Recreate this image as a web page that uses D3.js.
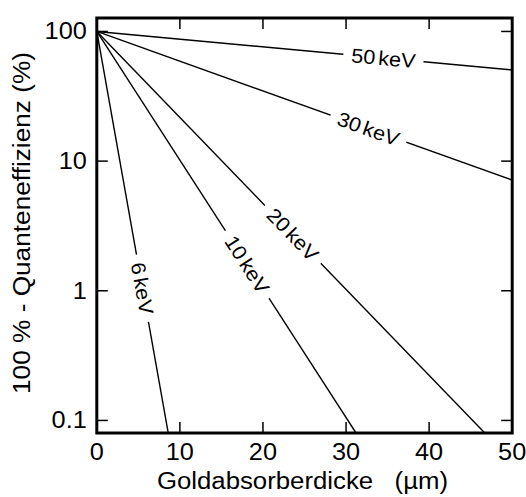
<!DOCTYPE html>
<html><head><meta charset="utf-8">
<script src="https://cdn.jsdelivr.net/npm/d3@7"></script>
<style>
html,body{margin:0;padding:0;background:#fff;}
text{font-family:"Liberation Sans",Arial,Helvetica,sans-serif;fill:#000;}
</style></head>
<body>
<svg id="c" width="526" height="497"></svg>
<script>
// Data
const energies = ["6 keV", "10 keV", "20 keV", "30 keV", "50 keV"];
const startPoint = [0, 100];
const endThickness = [8.6, 31.2, 46.7, 50, 50];
const endPercent = [0.08, 0.08, 0.08, 7.14, 50.5];
const labelThickness = [5.5, 18.1, 23.6, 32.7, 34.5];
const xTicks = [0, 10, 20, 30, 40, 50];
const yTicks = [0.1, 1, 10, 100];
const yTickLabels = ["0.1", "1", "10", "100"];

const svg = d3.select("#c");
const L = 96.8, R = 512.2, T = 18, B = 433;
const x = d3.scaleLinear().domain([0, 50]).range([L, R]);
const y = d3.scaleLog().domain([0.08, 127]).range([B, T]);

function stretch(sel, f) {
  const w = sel.node().getComputedTextLength();
  sel.attr("textLength", w * f).attr("lengthAdjust", "spacingAndGlyphs");
  return sel;
}

svg.append("clipPath").attr("id","pc").append("rect")
  .attr("x", L).attr("y", T).attr("width", R-L).attr("height", B-T);

const line = d3.line().x(d => x(d[0])).y(d => y(d[1]));
const g = svg.append("g").attr("clip-path","url(#pc)");

energies.forEach((e, i) => {
  const pts = [startPoint, [endThickness[i], endPercent[i]]];
  g.append("path").attr("d", line(pts)).attr("fill","none")
    .attr("stroke","#000").attr("stroke-width",1.4);
});

// labels with gaps
energies.forEach((e, i) => {
  const x0 = x(startPoint[0]), y0 = y(startPoint[1]);
  const x1 = x(endThickness[i]), y1 = y(endPercent[i]);
  const ang = Math.atan2(y1 - y0, x1 - x0) * 180 / Math.PI;
  const lx = x(labelThickness[i]);
  const t = (lx - x0) / (x1 - x0);
  const ly = y0 + t * (y1 - y0);
  const lg = svg.append("g").attr("transform", `translate(${lx},${ly}) rotate(${ang})`);
  const bg = lg.append("rect").attr("fill","#fff");
  const parts = e.split(" ");
  const sx = 1.08;
  const txt = lg.append("text").attr("text-anchor","middle").attr("dy","0.36em")
    .attr("font-size", 20).attr("transform", `scale(${sx},1)`);
  txt.append("tspan").text(parts[0]);
  txt.append("tspan").attr("dx", 3).text(parts[1]);
  const w = (txt.node().getComputedTextLength() + 3) * sx;
  bg.attr("x", -w/2 - 8).attr("y", -5).attr("width", w + 16).attr("height", 10);
});

// frame
svg.append("rect").attr("x", L).attr("y", T).attr("width", R-L).attr("height", B-T)
  .attr("fill","none").attr("stroke","#000").attr("stroke-width",3);

// ticks
const tk = 11;
xTicks.forEach(v => {
  if (v === 0 || v === 50) return;
  svg.append("line").attr("x1", x(v)).attr("x2", x(v)).attr("y1", B).attr("y2", B - tk)
    .attr("stroke","#000").attr("stroke-width",1.5);
  svg.append("line").attr("x1", x(v)).attr("x2", x(v)).attr("y1", T).attr("y2", T + tk)
    .attr("stroke","#000").attr("stroke-width",1.5);
});
yTicks.forEach(v => {
  svg.append("line").attr("x1", L).attr("x2", L + tk).attr("y1", y(v)).attr("y2", y(v))
    .attr("stroke","#000").attr("stroke-width",1.5);
  svg.append("line").attr("x1", R).attr("x2", R - tk).attr("y1", y(v)).attr("y2", y(v))
    .attr("stroke","#000").attr("stroke-width",1.5);
});
// tick labels
xTicks.forEach(v => {
  stretch(svg.append("text").attr("x", x(v)).attr("y", 460)
    .attr("text-anchor","middle").attr("font-size", 23).text(v), 1.1);
});
yTicks.forEach((v, i) => {
  stretch(svg.append("text").attr("x", L - 10).attr("y", y(v) + 7.8)
    .attr("text-anchor","end").attr("font-size", 23).text(yTickLabels[i]), 1.1);
});
// axis titles
stretch(svg.append("text").attr("x", 302.5).attr("y", 489)
  .attr("text-anchor","middle").attr("font-size", 23).style("white-space","pre")
  .text("Goldabsorberdicke   (\u00B5m)"), 1.12);
stretch(svg.append("text").attr("transform","translate(30,223) rotate(-90)")
  .attr("text-anchor","middle").attr("font-size", 23).style("white-space","pre")
  .text("100 % - Quanteneffizienz (%)"), 1.14);
</script>
</body></html>
